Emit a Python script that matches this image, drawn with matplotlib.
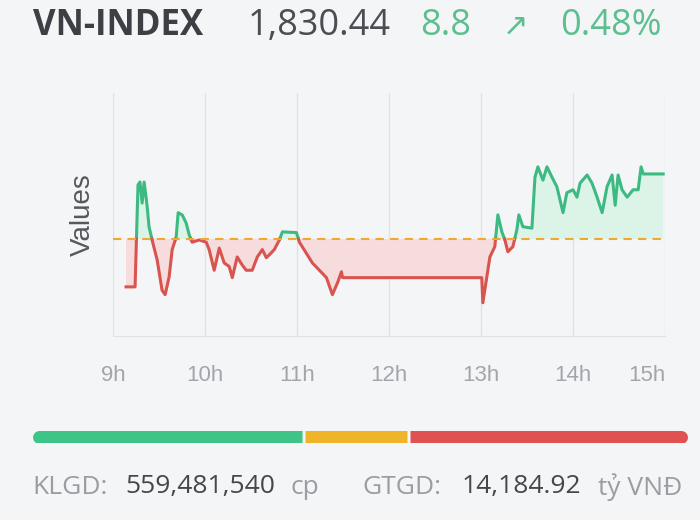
import numpy as np
import matplotlib.pyplot as plt

# intraday VN-INDEX, minutes after 9:00
minutes = [8.5, 14.4, 16.3, 17.6, 19, 20.3, 22.2, 23.5, 25.5, 28.8, 32, 34, 36.6, 38.6,
           41.2, 42.5, 45.1, 47.7, 49.7, 51.6, 56.2, 60.8, 62.7, 66, 69.3, 72.5, 75.8,
           77.8, 81, 84.3, 86.9, 90.8, 94.1, 97.4, 100, 102, 105.2, 108.5, 110.5, 119.6,
           121.6, 126.1, 130, 134.6, 139.2, 143.1, 146.4, 149, 149.7, 240.5, 241.2, 243.8,
           245.8, 249, 251, 253.6, 255.6, 257.5, 260.8, 263.4, 264.7, 267.3, 273.2, 275.2,
           277.1, 280.4, 283, 286.3, 289.5, 293.5, 296, 300, 302.6, 304.6, 309.2, 312.4,
           315.7, 319, 322.2, 325.5, 327.5, 329.4, 332, 335.3, 339.2, 342.5, 344.4, 345.8,
           358.8]
values = [1815.15, 1815.15, 1828.95, 1829.35, 1826.5, 1829.35, 1826.2, 1823.3, 1821.5,
          1818.8, 1814.7, 1814.1, 1816.5, 1820.2, 1821.9, 1825.2, 1824.9, 1823.8, 1822.2,
          1821.2, 1821.5, 1821.2, 1820.2, 1817.4, 1820.4, 1818.4, 1817.9, 1816.4, 1819.2,
          1818.1, 1817.4, 1817.4, 1819.2, 1820.2, 1819.1, 1819.5, 1820.2, 1821.5, 1822.6,
          1822.5, 1821.2, 1819.7, 1818.4, 1817.4, 1816.4, 1814.1, 1815.7, 1817.2, 1816.4,
          1816.4, 1813.0, 1816.5, 1819.2, 1820.6, 1824.9, 1822.6, 1821.5, 1819.9, 1820.6,
          1822.9, 1824.9, 1823.3, 1823.1, 1830.0, 1831.4, 1829.6, 1831.4, 1830.0, 1828.7,
          1825.2, 1827.9, 1828.3, 1827.3, 1829.2, 1830.3, 1829.2, 1827.3, 1825.2, 1828.7,
          1830.3, 1826.2, 1830.3, 1828.3, 1827.3, 1828.3, 1828.3, 1831.4, 1830.44, 1830.44]
ref_close = 1821.64
hour_labels = ['9h', '10h', '11h', '12h', '13h', '14h', '15h']

# market breadth bar (advancing / unchanged / declining)
breadth = [267, 104, 275]
breadth_colors = ['#3ec487', '#f0b429', '#e05252']

BG = '#f3f5f7'
GREEN = '#3dba82'
RED = '#d9534f'


def split_at_ref(x, y, ref):
    # add the crossing points so the two colours meet on the reference line
    xs, ys = [x[0]], [y[0]]
    for i in range(1, len(x)):
        a, b = y[i - 1] - ref, y[i] - ref
        if a * b < 0:
            t = a / (a - b)
            xs.append(x[i - 1] + t * (x[i] - x[i - 1]))
            ys.append(ref)
        xs.append(x[i])
        ys.append(y[i])
    return np.array(xs), np.array(ys)


x, y = split_at_ref(minutes, values, ref_close)

fig = plt.figure(figsize=(7, 5.2), dpi=100, facecolor=BG)
plt.rcParams['font.family'] = ['Open Sans', 'DejaVu Sans']

ax = fig.add_axes([113 / 700, 1 - 336 / 520, 552 / 700, 243 / 520])
ax.set_facecolor(BG)
ax.set_xlim(0, 360)
ax.set_ylim(1808.5, 1841.4)

for h in range(0, 361, 60):
    ax.axvline(h, color='#dfe3e7', lw=1, zorder=0)
for s in ['top', 'right', 'left']:
    ax.spines[s].set_visible(False)
ax.spines['bottom'].set_color('#dfe3e7')

ax.fill_between(x, y, ref_close, where=y >= ref_close, color='#dcf3e8', lw=0, interpolate=True)
ax.fill_between(x, y, ref_close, where=y <= ref_close, color='#f7dcdd', lw=0, interpolate=True)
ax.plot(x, np.where(y >= ref_close, y, np.nan), color=GREEN, lw=2.2)
ax.plot(x, np.where(y <= ref_close, y, np.nan), color=RED, lw=2.2)
ax.axhline(ref_close, color='#f0a830', lw=1.5, ls=(0, (4, 3)))

ax.set_yticks([])
ax.set_xticks(range(0, 361, 60))
ax.set_xticklabels(hour_labels, fontsize=16, color='#a2a6ab', family='Liberation Sans')
ax.get_xticklabels()[-1].set_horizontalalignment('right')
ax.tick_params(axis='x', length=0, pad=21)
ax.set_ylabel('Values', fontsize=20, color='#55595e', labelpad=12, family='Liberation Sans')

# header
hy = 1 - 26 / 520
fig.text(33 / 700, hy, 'VN-INDEX', fontsize=25, fontweight='bold', color='#3c3f44', va='center')
fig.text(248 / 700, hy, '1,830.44', fontsize=26, color='#4a4d52', va='center')
fig.text(420 / 700, hy, '8.8', fontsize=26, color='#5cbf8f', va='center')
fig.text(503 / 700, hy, '\u2197', fontsize=22, color='#5cbf8f', va='center', family='DejaVu Sans')
fig.text(560 / 700, hy, '0.48%', fontsize=26, color='#5cbf8f', va='center')

# breadth bar, rounded at both outer ends
bx = fig.add_axes([32 / 700, 1 - 443 / 520, 656 / 700, 13 / 520])
bx.set_axis_off()
total = sum(breadth)
bx.set_xlim(0, total)
bx.set_ylim(-0.5, 0.5)
r = total * 6.5 / 656
edges = np.cumsum([0] + breadth)
for i, (col, l, rr) in enumerate(zip(breadth_colors, edges[:-1], edges[1:])):
    lo = l + 1.5 * total / 656 if i > 0 else l
    hi = rr - 1.5 * total / 656 if i < len(breadth) - 1 else rr
    if i == 0:
        bx.plot([lo + r, hi - r], [0, 0], color=col, lw=13 * 0.72, solid_capstyle='round')
        lo = lo + r
    if i == len(breadth) - 1:
        bx.plot([lo + r, hi - r], [0, 0], color=col, lw=13 * 0.72, solid_capstyle='round')
        hi = hi - r
    bx.plot([lo, hi], [0, 0], color=col, lw=13 * 0.72, solid_capstyle='butt')

# volume / value line
yb = 1 - 487 / 520
fig.text(32 / 700, yb, 'KLGD:', fontsize=19, color='#9a9ea3', va='center')
fig.text(125 / 700, yb, '559,481,540', fontsize=19, color='#44474c', va='center')
fig.text(290 / 700, yb, 'cp', fontsize=19, color='#9a9ea3', va='center')
fig.text(362 / 700, yb, 'GTGD:', fontsize=19, color='#9a9ea3', va='center')
fig.text(462 / 700, yb, '14,184.92', fontsize=19, color='#44474c', va='center')
fig.text(598 / 700, yb, 'tỷ VNĐ', fontsize=19, color='#9a9ea3', va='center')

fig.savefig('out.png', dpi=100, facecolor=BG)
